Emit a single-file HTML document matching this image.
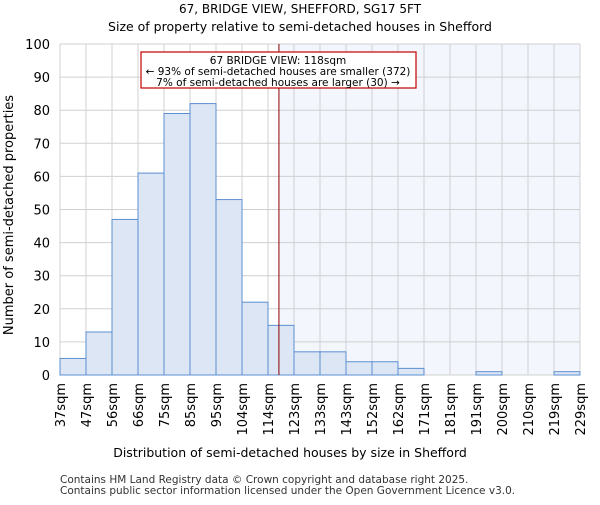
<!DOCTYPE html>
<html><head><meta charset="utf-8"><style>body{margin:0;background:#fff}svg{font-family:"DejaVu Sans","Liberation Sans",sans-serif}</style></head>
<body>
<svg id="c" width="600" height="500" xmlns="http://www.w3.org/2000/svg"></svg>
<script>
const edges=["37sqm","47sqm","56sqm","66sqm","75sqm","85sqm","95sqm","104sqm","114sqm","123sqm","133sqm","143sqm","152sqm","162sqm","171sqm","181sqm","191sqm","200sqm","210sqm","219sqm","229sqm"];
const counts=[5,13,47,61,79,82,53,22,15,7,7,4,4,2,0,0,1,0,0,1];
const yTicks=[0,10,20,30,40,50,60,70,80,90,100];
const markerBin=8.42;
const svg=document.getElementById('c');const NS='http://www.w3.org/2000/svg';
const L=60,R=580,T=44,B=375;
const x=i=>L+(R-L)*i/counts.length;
const y=v=>B-(B-T)*v/100;
function mk(t,a,txt){const e=document.createElementNS(NS,t);for(const k in a)e.setAttribute(k,a[k]);if(txt!==undefined)e.textContent=txt;svg.appendChild(e);return e;}
let e;
e=mk('rect',{x:x(markerBin),y:T,width:R-x(markerBin),height:B-T,fill:'#f3f6fc'});


for(let i=0;i<edges.length;i++){e=mk('line',{x1:x(i),x2:x(i),y1:T,y2:B,stroke:'#d0d0d0'});

}
yTicks.forEach(v=>{e=mk('line',{x1:L,x2:R,y1:y(v),y2:y(v),stroke:'#d0d0d0'});


e=mk('text',{x:L-10,y:y(v)+5,'text-anchor':'end','font-size':13},v);

});
counts.forEach((c,i)=>{if(c<=0)return;e=mk('rect',{x:x(i),y:y(c),width:x(i+1)-x(i),height:B-y(c),fill:'#dce6f5',stroke:'#5b8fd0','stroke-width':1});

});
edges.forEach((l,i)=>{e=mk('text',{transform:`translate(${x(i)+5},${B+8}) rotate(-90)`,'text-anchor':'end','font-size':13},l);

});
e=mk('line',{x1:x(markerBin),x2:x(markerBin),y1:T,y2:B,stroke:'#8b0000','stroke-width':1});


e=mk('rect',{x:141,y:52,width:275,height:36,fill:'#fff',stroke:'#c00000','stroke-width':1.2});


[["67 BRIDGE VIEW: 118sqm",64],["← 93% of semi-detached houses are smaller (372)",75],["7% of semi-detached houses are larger (30) →",86]].forEach(([t,yy])=>{e=mk('text',{x:278,y:yy,'text-anchor':'middle','font-size':10.5},t);

});
e=mk('text',{x:300,y:13,'text-anchor':'middle','font-size':12},'67, BRIDGE VIEW, SHEFFORD, SG17 5FT');


e=mk('text',{x:300,y:31,'text-anchor':'middle','font-size':12.5},'Size of property relative to semi-detached houses in Shefford');


e=mk('text',{x:290,y:457,'text-anchor':'middle','font-size':12.5},'Distribution of semi-detached houses by size in Shefford');


e=mk('text',{transform:'translate(13,215) rotate(-90)','text-anchor':'middle','font-size':13},'Number of semi-detached properties');


e=mk('text',{x:60,y:483,'font-size':10.5,fill:'#333'},'Contains HM Land Registry data © Crown copyright and database right 2025.');


e=mk('text',{x:60,y:494,'font-size':10.5,fill:'#333'},'Contains public sector information licensed under the Open Government Licence v3.0.');


</script>
</body></html>
